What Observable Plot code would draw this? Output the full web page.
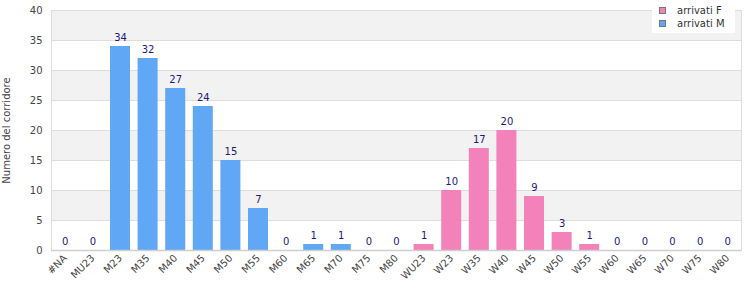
<!DOCTYPE html>
<html>
<head>
<meta charset="utf-8">
<script src="https://cdn.jsdelivr.net/npm/d3@7"></script>
<script src="https://cdn.jsdelivr.net/npm/@observablehq/plot@0.6"></script>
<style>
  body { margin: 0; background: #fff; }
  #wrap { position: relative; width: 750px; height: 300px; font-family: "DejaVu Sans", sans-serif; }
  #legend { position: absolute; left: 652px; top: 0; width: 83px; height: 33px; background: #fff; font-size: 10px; color: #333; }
  .item { position: absolute; left: 7px; height: 13px; line-height: 13px; white-space: nowrap; }
  .sw { position: absolute; left: 0; top: 3px; width: 5px; height: 5px; border: 1px solid #777; }
  .lab { position: absolute; left: 18px; top: 0; }
</style>
</head>
<body>
<div id="wrap"><div id="legend"></div></div>
<script>
const categoriesM = ["#NA","MU23","M23","M35","M40","M45","M50","M55","M60","M65","M70","M75","M80"];
const valuesM = [0,0,34,32,27,24,15,7,0,1,1,0,0];
const categoriesF = ["WU23","W23","W35","W40","W45","W50","W55","W60","W65","W70","W75","W80"];
const valuesF = [1,10,17,20,9,3,1,0,0,0,0,0];
const series = ["arrivati F","arrivati M"];
const colors = ["#f282b9","#60a8f5"];
const yTicks = [0,5,10,15,20,25,30,35,40];
const shadedStarts = [5,15,25,35];

const categories = [...categoriesM, ...categoriesF];
const data = [
  ...categoriesM.map((c,i) => ({cat: c, value: valuesM[i], series: "arrivati M"})),
  ...categoriesF.map((c,i) => ({cat: c, value: valuesF[i], series: "arrivati F"}))
];

const chart = Plot.plot({
  width: 750, height: 300,
  marginLeft: 51, marginRight: 9, marginTop: 10, marginBottom: 50,
  style: {fontFamily: "DejaVu Sans, sans-serif", fontSize: "10px", background: "transparent", color: "#444"},
  x: {domain: categories, paddingInner: 0.275, paddingOuter: 0.1375, round: false, label: null},
  y: {domain: [0, 40]},
  color: {domain: series, range: colors},
  marks: [
    Plot.rect(shadedStarts, {y1: d => d, y2: d => d + 5, fill: "#f2f2f2"}),
    Plot.ruleY(yTicks, {stroke: "#dedede"}),
    Plot.frame({stroke: "#dedede"}),
    Plot.barY(data, {x: "cat", y: "value", fill: "series"}),
    Plot.ruleY([0], {stroke: "#cfcfcf", strokeWidth: 1.5}),
    Plot.text(data, {x: "cat", y: "value", text: d => String(d.value), dy: -9, fill: "#1a1a80", fontSize: 10}),
    Plot.axisX({tickRotate: -45, tickSize: 0, tickPadding: 6, label: null, fill: "#444"}),
    Plot.axisY({ticks: yTicks, tickSize: 0, tickPadding: 9, label: "Numero del corridore", labelAnchor: "center", labelOffset: 49, labelArrow: "none", fill: "#444"})
  ]
});
const wrap = document.getElementById("wrap");
wrap.insertBefore(chart, wrap.firstChild);

const legend = document.getElementById("legend");
series.forEach((s, i) => {
  const it = document.createElement("div");
  it.className = "item";
  it.style.top = (4 + i * 13) + "px";
  it.innerHTML = `<span class="sw" style="background:${colors[i]}"></span><span class="lab">${s}</span>`;
  legend.appendChild(it);
});
</script>
</body>
</html>
